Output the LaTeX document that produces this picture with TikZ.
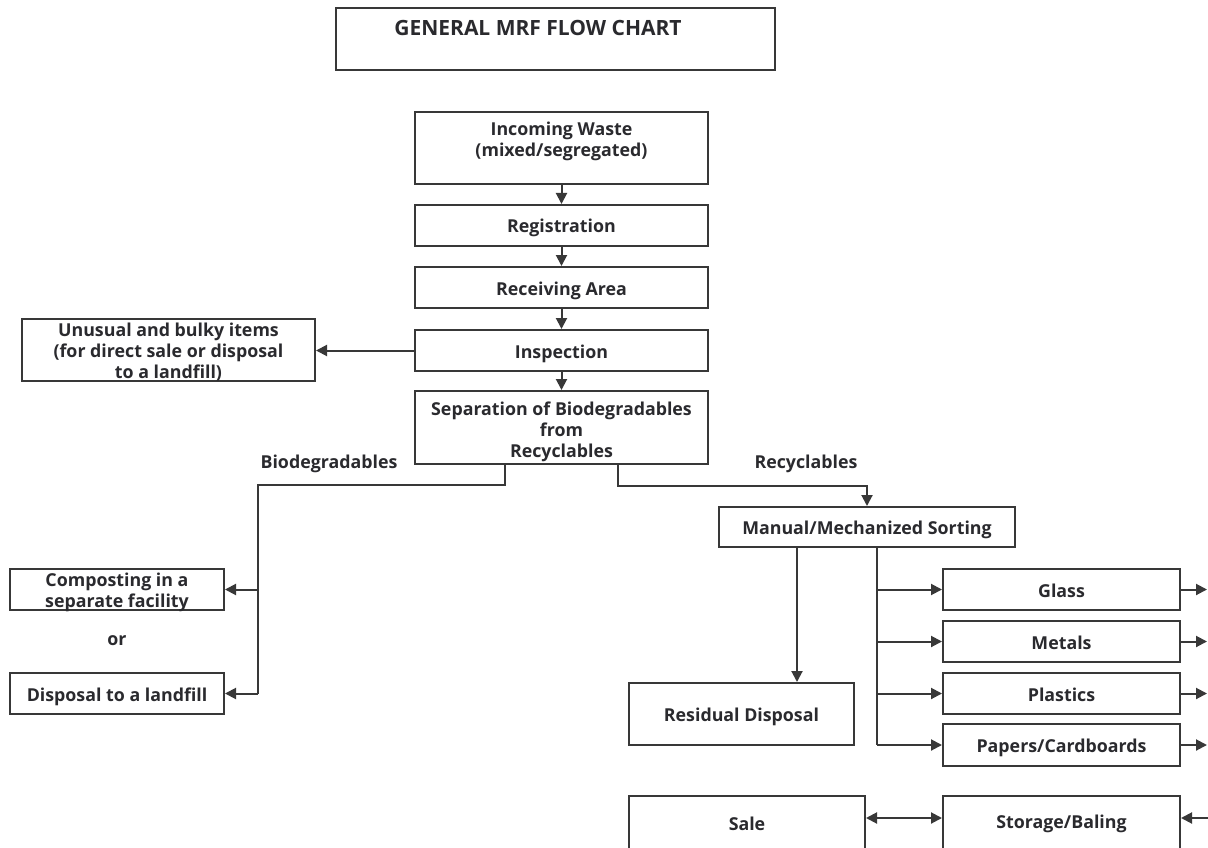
\documentclass[tikz,border=0pt]{standalone}
\usepackage{fontspec}
\setmainfont{Open Sans}
\usetikzlibrary{arrows.meta}
\definecolor{linec}{HTML}{383838}
\definecolor{txtc}{HTML}{2A2A2E}
\tikzset{
  box/.style={draw=linec, line width=2pt, fill=white, inner sep=0pt, align=center, text=txtc,
    font=\fontsize{17.8}{20.8}\selectfont\bfseries},
  one/.style={text height=15pt, text depth=0pt},
  txt/.style={inner sep=0pt, text=txtc, font=\fontsize{17.8}{20.8}\selectfont\bfseries, align=center},
  conn/.style={draw=linec, line width=2pt},
  arr/.style={conn, -{Triangle[length=11pt,width=11pt]}},
  darr/.style={conn, {Triangle[length=11pt,width=11pt]}-{Triangle[length=11pt,width=11pt]}}
}
\begin{document}
\begin{tikzpicture}[x=1pt,y=-1pt]
\useasboundingbox (0,0) rectangle (1208,848);
\clip (0,0) rectangle (1208,848);
% title
\node[box, minimum width=439, minimum height=62] (title) at (555.5,39) {};
\node[txt, font=\fontsize{21}{24}\selectfont\bfseries] (titletxt) at (538,28) {GENERAL MRF FLOW CHART};
% main column
\node[box, minimum width=293, minimum height=72] (inc) at (561.5,148) {};
\node[txt] (inct) at (561.5,141) {Incoming Waste\\(mixed/segregated)};
\node[box, one, minimum width=293, minimum height=41] (reg) at (561.5,225.5) {Registration};
\node[box, one, minimum width=293, minimum height=41] (rec) at (561.5,287.5) {Receiving Area};
\node[box, one, minimum width=293, minimum height=41] (insp) at (561.5,350.5) {Inspection};
\node[box, minimum width=293, minimum height=62] (unu) at (168.5,350) {};
\node[txt] (unut) at (168.5,352) {Unusual and bulky items\\(for direct sale or disposal\\to a landfill)};
\node[box, minimum width=293, minimum height=73] (sep) at (561.5,427.5) {};
\node[txt] (sept) at (561.5,432) {Separation of Biodegradables\\from\\Recyclables};
\draw[arr] (inc) -- (reg);
\draw[arr] (reg) -- (rec);
\draw[arr] (rec) -- (insp);
\draw[arr] (insp) -- (sep);
\draw[arr] (insp.west) -- (insp.west -| unu.east);
% labels
\node[txt] (lbio) at (329,464) {Biodegradables};
\node[txt] (lrec) at (806,464) {Recyclables};
% left branch
\node[box, minimum width=214, minimum height=41] (comp) at (117,589.5) {};
\node[txt] (compt) at (117,592) {Composting in a\\separate facility};
\node[txt] (or) at (117,641) {or};
\node[box, one, minimum width=214, minimum height=41] (land) at (117,693.5) {Disposal to a landfill};
\coordinate (bA) at (505,485);
\coordinate (bB) at (258,485);
\draw[conn] (sep.south -| bA) -- (bA) -- (bB) -- (bB |- land.east);
\draw[arr] (bB |- comp.east) -- (comp.east);
\draw[arr] (bB |- land.east) -- (land.east);
% right branch
\node[box, one, minimum width=296, minimum height=40] (sort) at (867,527) {Manual/Mechanized Sorting};
\coordinate (rA) at (618,486);
\draw[arr] (sep.south -| rA) -- (rA) -- (rA -| sort.north) -- (sort.north);
\node[box, one, minimum width=225, minimum height=62] (resid) at (741.5,714) {Residual Disposal};
\coordinate (rD) at (797,547);
\draw[arr] (sort.south -| rD) -- (rD |- resid.north);
\node[box, one, minimum width=237, minimum height=41] (glass) at (1061.5,589.5) {Glass};
\node[box, one, minimum width=237, minimum height=41] (metal) at (1061.5,641.5) {Metals};
\node[box, one, minimum width=237, minimum height=41] (plast) at (1061.5,693.5) {Plastics};
\node[box, one, minimum width=237, minimum height=42] (paper) at (1061.5,745) {Papers/Cardboards};
\coordinate (rS) at (877,547);
\draw[conn] (sort.south -| rS) -- (rS |- paper.west);
\draw[arr] (rS |- glass.west) -- (glass.west);
\draw[arr] (rS |- metal.west) -- (metal.west);
\draw[arr] (rS |- plast.west) -- (plast.west);
\draw[arr] (rS |- paper.west) -- (paper.west);
\coordinate (edge) at (1207,0);
\draw[arr] (glass.east) -- (glass.east -| edge);
\draw[arr] (metal.east) -- (metal.east -| edge);
\draw[arr] (plast.east) -- (plast.east -| edge);
\draw[arr] (paper.east) -- (paper.east -| edge);
% bottom
\node[box, minimum width=236, minimum height=56] (sale) at (747,824) {Sale};
\node[box, minimum width=237, minimum height=56] (stor) at (1061.5,824) {Storage/Baling};
\coordinate (sy) at (0,818);
\draw[darr] (sale.east |- sy) -- (stor.west |- sy);
\coordinate (edgeS) at (1215,818);
\draw[arr] (edgeS) -- (stor.east |- sy);
\end{tikzpicture}
\end{document}
